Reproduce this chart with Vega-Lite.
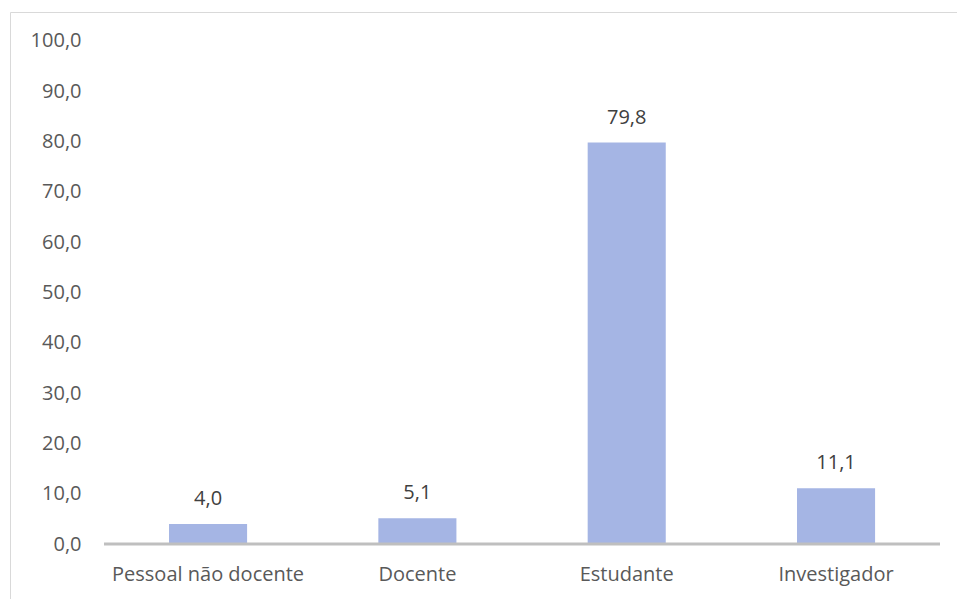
{
  "$schema": "https://vega.github.io/schema/vega-lite/v6.json",
  "width": 947,
  "height": 587,
  "padding": {"left": 10, "top": 12, "right": 0, "bottom": 0},
  "autosize": {"type": "none"},
  "config": {
    "view": {"stroke": "#d9d9d9", "strokeWidth": 1},
    "font": "Open Sans",
    "locale": {"number": {"decimal": ",", "thousands": ".", "grouping": [3], "currency": ["", " €"]}}
  },
  "data": {
    "values": [
      {"categoria": "Pessoal não docente", "valor": 4.0},
      {"categoria": "Docente", "valor": 5.1},
      {"categoria": "Estudante", "valor": 79.8},
      {"categoria": "Investigador", "valor": 11.1}
    ]
  },
  "layer": [
    {
      "encoding": {
        "x": {
          "field": "categoria", "type": "nominal", "sort": null,
          "scale": {"paddingInner": 0.627, "paddingOuter": 0.5755, "align": 0.66},
          "axis": {"orient": "bottom", "title": null, "domain": false, "ticks": false, "labelPadding": 0, "offset": -35, "labelAngle": 0, "labelFontSize": 20, "labelColor": "#595959", "labelFont": "Open Sans", "labelBaseline": "top", "labelLimit": 0}
        },
        "y": {
          "field": "valor", "type": "quantitative",
          "scale": {"domain": [-10.934, 105.765], "nice": false, "zero": false},
          "axis": {"values": [0, 10, 20, 30, 40, 50, 60, 70, 80, 90, 100], "format": ".1f", "title": null, "domain": false, "ticks": false, "grid": false, "labelPadding": 0, "offset": -71, "labelFontSize": 20, "labelColor": "#595959", "labelFont": "Open Sans"}
        }
      },
      "layer": [
        {"mark": {"type": "bar", "color": "#a5b5e4"}},
        {
          "mark": {"type": "text", "baseline": "bottom", "dy": -15, "fontSize": 20, "color": "#404040", "font": "Open Sans"},
          "encoding": {"text": {"field": "valor", "type": "quantitative", "format": ".1f"}}
        }
      ]
    },
    {
      "data": {"values": [{"inicio": 0, "fim": 100, "base": 0}]},
      "mark": {"type": "rule", "color": "#bfbfbf", "strokeWidth": 3},
      "encoding": {
        "x": {"field": "inicio", "type": "quantitative", "scale": {"domain": [-11.244, 102.033], "nice": false, "zero": false}, "axis": null},
        "x2": {"field": "fim"},
        "y": {"field": "base", "type": "quantitative"}
      }
    }
  ],
  "resolve": {"scale": {"x": "independent"}, "axis": {"x": "independent"}}
}
